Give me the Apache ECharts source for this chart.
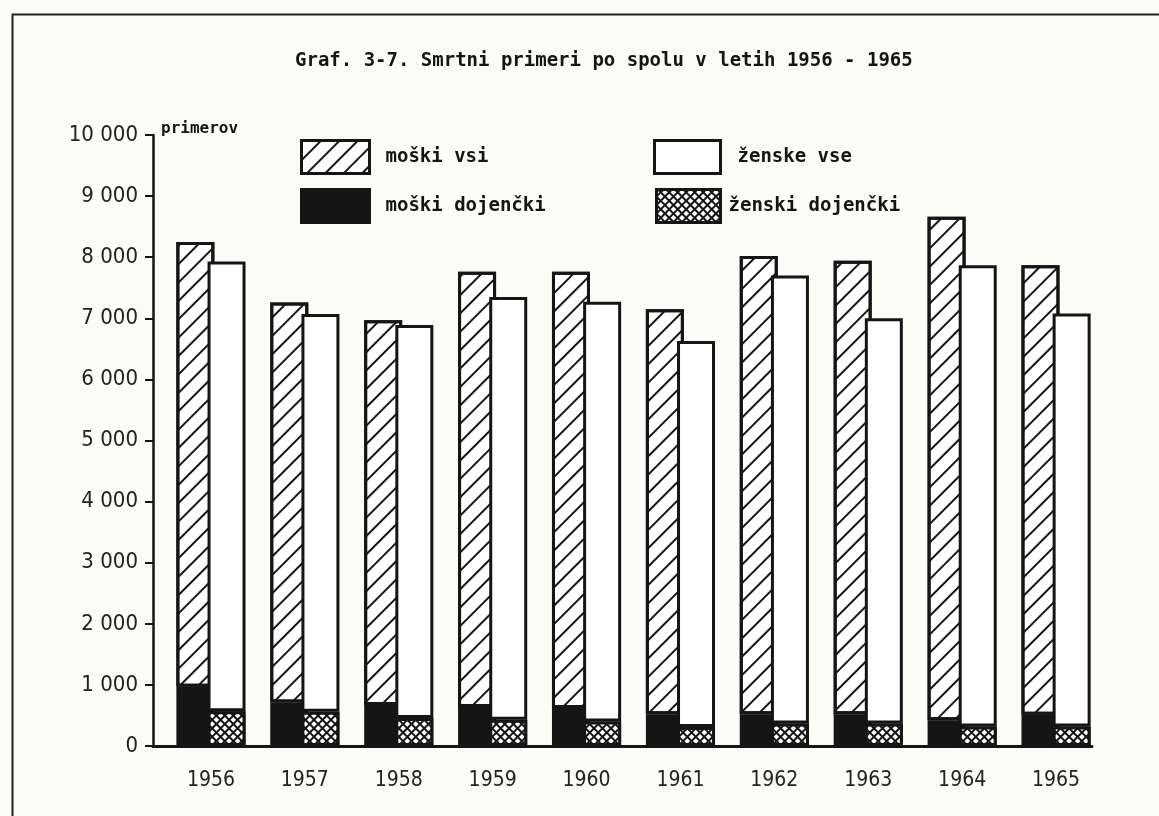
<!DOCTYPE html>
<html>
<head>
<meta charset="utf-8">
<script src="https://cdn.jsdelivr.net/npm/echarts@6/dist/echarts.min.js"></script>
<style>
  html, body { margin: 0; padding: 0; background: #fbfbf8; }
  #chart { width: 1159px; height: 816px; }
</style>
</head>
<body>
<div id="chart"></div>
<script>
// years on the x axis
const years = ['1956', '1957', '1958', '1959', '1960', '1961', '1962', '1963', '1964', '1965'];
// deaths, all males / all females
const maleAll = [8250, 7260, 6970, 7760, 7760, 7150, 8020, 7940, 8660, 7870];
const femaleAll = [7930, 7070, 6890, 7350, 7270, 6630, 7700, 7000, 7870, 7080];
// deaths, infants
const maleInfant = [970, 710, 670, 640, 620, 520, 520, 520, 420, 510];
const femaleInfant = [570, 560, 460, 430, 400, 310, 370, 370, 320, 320];
// y tick labels
const yTicks = [0, 1000, 2000, 3000, 4000, 5000, 6000, 7000, 8000, 9000, 10000];

const mono = "'DejaVu Sans Mono', monospace";
const cond = "'DejaVu Sans Condensed', sans-serif";
const ink = '#151515';

const hatch = {
  symbol: 'rect', symbolSize: 1,
  dashArrayX: [1, 0], dashArrayY: [2, 11],
  rotation: -Math.PI / 4, color: ink
};
const cross = {
  symbol: 'rect', symbolSize: 1,
  dashArrayX: [4, 2], dashArrayY: [4, 2],
  rotation: Math.PI / 4, color: '#fff'
};

// the part of a total above the infants, so the stack reaches the total
function rest(total, part) {
  return total.map((v, i) => v - part[i]);
}

const barBase = {
  type: 'bar',
  xAxisIndex: 1,
  yAxisIndex: 1,
  barWidth: 38,
  barGap: '-18%'
};

function legendAt(name, left, top, w, textGap) {
  return {
    data: [name],
    left: left, top: top,
    itemWidth: w, itemHeight: 33,
    icon: 'rect',
    itemStyle: { borderColor: ink, borderWidth: 3 },
    textStyle: { fontFamily: mono, fontSize: 19, fontWeight: 'bold', color: ink, padding: [0, 0, 0, textGap] },
    selectedMode: false
  };
}

const chart = echarts.init(document.getElementById('chart'));
chart.setOption({
  backgroundColor: '#fbfbf8',
  animation: false,
  title: {
    text: 'Graf. 3-7. Smrtni primeri po spolu v letih 1956 - 1965',
    left: 290, top: 47,
    textStyle: { fontFamily: mono, fontSize: 19, fontWeight: 'bold', color: ink }
  },
  graphic: [{
    type: 'rect', left: 10, top: 12,
    shape: { width: 1170, height: 830 },
    style: { fill: 'none', stroke: '#222', lineWidth: 2 }
  }],
  legend: [
    legendAt('moški vsi', 295, 134, 68, 11),
    legendAt('moški dojenčki', 295, 183, 68, 11),
    legendAt('ženske vse', 648, 134, 66, 12),
    legendAt('ženski dojenčki', 650, 183, 64, 3)
  ],
  // grid 0 carries the visible axes, grid 1 the bars
  grid: [
    { left: 153, right: 67, top: 135, bottom: 70 },
    { left: 164, right: 56, top: 135, bottom: 70 }
  ],
  xAxis: [{
    gridIndex: 0,
    type: 'value',
    min: 0, max: 1,
    splitLine: { show: false },
    axisTick: { show: false },
    axisLabel: { show: false },
    axisLine: { lineStyle: { color: ink, width: 3 } }
  }, {
    gridIndex: 1,
    type: 'category',
    data: years,
    axisLine: { show: false },
    axisTick: { show: false },
    axisLabel: {
      margin: 24,
      fontFamily: cond, fontSize: 21, color: '#222'
    }
  }],
  yAxis: [{
    gridIndex: 0,
    type: 'value',
    min: 0, max: 10000, interval: 1000,
    name: 'primerov',
    nameLocation: 'end',
    nameGap: -2,
    nameTextStyle: { fontFamily: mono, fontSize: 16, fontWeight: 'bold', color: ink, align: 'left', padding: [0, 0, 0, 8] },
    splitLine: { show: false },
    axisLine: { show: true, lineStyle: { color: ink, width: 2.5 } },
    axisTick: { show: true, length: 8, lineStyle: { color: ink, width: 2 } },
    axisLabel: {
      customValues: yTicks,
      formatter: v => v >= 1000 ? String(v).replace(/(\d)(?=(\d{3})+$)/g, '$1 ') : String(v),
      margin: 15,
      fontFamily: cond, fontSize: 22, color: '#222'
    }
  }, {
    gridIndex: 1,
    type: 'value',
    min: 0, max: 10000,
    show: false,
    splitLine: { show: false }
  }],
  series: [
    Object.assign({}, barBase, {
      name: 'moški dojenčki', stack: 'm',
      data: maleInfant,
      itemStyle: { color: ink, borderColor: ink, borderWidth: 3 }
    }),
    Object.assign({}, barBase, {
      name: 'moški vsi', stack: 'm',
      data: rest(maleAll, maleInfant),
      itemStyle: { color: '#fff', borderColor: ink, borderWidth: 3, decal: hatch }
    }),
    Object.assign({}, barBase, {
      name: 'ženski dojenčki', stack: 'f',
      data: femaleInfant,
      itemStyle: { color: ink, borderColor: ink, borderWidth: 3, decal: cross }
    }),
    Object.assign({}, barBase, {
      name: 'ženske vse', stack: 'f',
      data: rest(femaleAll, femaleInfant),
      itemStyle: { color: '#fff', borderColor: ink, borderWidth: 3 }
    })
  ]
});
</script>
</body>
</html>
